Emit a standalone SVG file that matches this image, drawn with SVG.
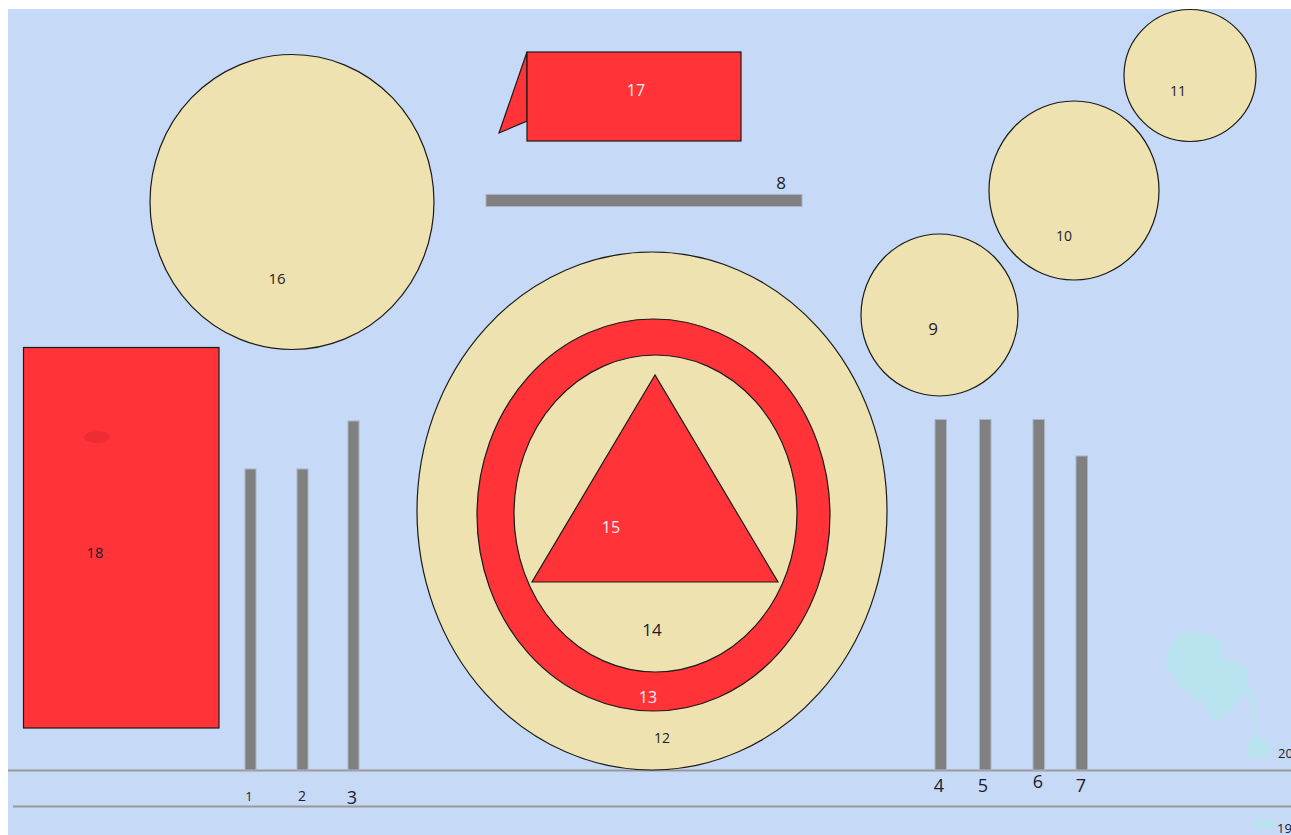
<svg xmlns="http://www.w3.org/2000/svg" width="1291" height="835" viewBox="0 0 1291 835">
<style>
.bg{fill:#C6D9F6}
.beige{fill:#EEE2B0;stroke:#1a1a1a;stroke-width:1.2}
.red{fill:#FF3338;stroke:#1a1a1a;stroke-width:1.2}
.bar{fill:#808080;stroke:#A9B3C4;stroke-width:1}
.hline{stroke:#999;stroke-width:2;fill:none}
.lbl{font-family:"Open Sans","Liberation Sans",sans-serif;fill:#1c1c2a;text-anchor:middle}
.lbl-w{font-family:"Open Sans","Liberation Sans",sans-serif;fill:#F2F0F6;text-anchor:middle}
.blob{fill:#B8E2EE}
</style>
<rect x="0" y="0" width="1291" height="835" fill="#FFFFFF"/>
<rect class="bg" x="8" y="9" width="1283" height="826"/>

<g id="connectors">
  <line class="hline" x1="8" y1="770.5" x2="1291" y2="770.5"/>
  <line class="hline" x1="13" y1="806.5" x2="1291" y2="806.5"/>
</g>

<g id="node-16">
  <ellipse class="beige" cx="292" cy="202" rx="142" ry="147.5"/>
  <text class="lbl" x="277" y="284" font-size="15">16</text>
</g>

<g id="node-17">
  <polygon class="red" points="527,52 499,133 527,121"/>
  <rect class="red" x="527" y="52" width="214" height="89"/>
  <text class="lbl-w" x="636" y="96" font-size="16">17</text>
</g>

<g id="node-8">
  <rect class="bar" x="486" y="194.5" width="316" height="12"/>
  <text class="lbl" x="781" y="189" font-size="17">8</text>
</g>

<g id="node-11">
  <circle class="beige" cx="1190" cy="75.5" r="66"/>
  <text class="lbl" x="1178" y="96" font-size="14">11</text>
</g>

<g id="node-10">
  <ellipse class="beige" cx="1074" cy="190.5" rx="85" ry="89.5"/>
  <text class="lbl" x="1064" y="241" font-size="14">10</text>
</g>

<g id="node-9">
  <ellipse class="beige" cx="939.5" cy="315" rx="78.5" ry="81"/>
  <text class="lbl" x="933" y="335" font-size="17">9</text>
</g>

<g id="node-18">
  <rect class="red" x="23.5" y="347.5" width="195.5" height="380.5"/>
  <ellipse cx="97" cy="437" rx="13" ry="6" fill="#EE2D33"/>
  <text class="lbl" x="95" y="558" font-size="15">18</text>
</g>

<g id="node-12">
  <ellipse class="beige" cx="652" cy="511" rx="235" ry="259"/>
  <text class="lbl" x="662" y="743" font-size="14">12</text>
</g>

<g id="node-13">
  <ellipse class="red" cx="653.5" cy="515" rx="176.5" ry="196"/>
  <text class="lbl-w" x="648" y="703" font-size="16">13</text>
</g>

<g id="node-14">
  <ellipse class="beige" cx="655.5" cy="513.5" rx="141.5" ry="158.5"/>
  <text class="lbl" x="652" y="636" font-size="17">14</text>
</g>

<g id="node-15">
  <polygon class="red" points="655,375 532,582 778,582"/>
  <text class="lbl-w" x="611" y="533" font-size="16">15</text>
</g>

<g id="node-1">
  <rect class="bar" x="245" y="469" width="11" height="301"/>
  <text class="lbl" x="249" y="801" font-size="13">1</text>
</g>
<g id="node-2">
  <rect class="bar" x="297" y="469" width="11" height="301"/>
  <text class="lbl" x="302" y="801" font-size="14">2</text>
</g>
<g id="node-3">
  <rect class="bar" x="348" y="421" width="11" height="349"/>
  <text class="lbl" x="352" y="804" font-size="18">3</text>
</g>
<g id="node-4">
  <rect class="bar" x="935" y="419.5" width="11.5" height="350.5"/>
  <text class="lbl" x="939" y="792" font-size="18">4</text>
</g>
<g id="node-5">
  <rect class="bar" x="979.5" y="419.5" width="11.5" height="350.5"/>
  <text class="lbl" x="983" y="792" font-size="18">5</text>
</g>
<g id="node-6">
  <rect class="bar" x="1033" y="419.5" width="11.5" height="350.5"/>
  <text class="lbl" x="1038" y="788" font-size="18">6</text>
</g>
<g id="node-7">
  <rect class="bar" x="1076" y="456" width="11.5" height="314"/>
  <text class="lbl" x="1081" y="792" font-size="18">7</text>
</g>

<g id="node-20">
  <path class="blob" d="M1165,656.7 L1173.3,640 L1183.3,633.3 L1200,631.7 L1216.7,636.7 L1223.3,643.3 L1220,656.7 L1240,661.7 L1246.7,670 L1248.3,686.7 L1255,700 L1256.7,736.7 L1266.7,740 L1271.7,746.7 L1268.3,756.7 L1255,759.3 L1246.7,753.3 L1248.3,743.3 L1253.3,736.7 L1251.7,703.3 L1243.3,693.3 L1240,698.3 L1231.7,710 L1221.7,720 L1211.7,718.3 L1206.7,710 L1203.3,700 L1193.3,700 L1188.3,691.7 L1178.3,686.7 L1173.3,676.7 L1166.7,666.7 Z"/>
  <text class="lbl" x="1278" y="758" font-size="13" style="text-anchor:start">20</text>
</g>

<g id="node-19">
  <ellipse class="blob" cx="1264" cy="824" rx="12.5" ry="5.5"/>
  <text class="lbl" x="1277" y="833" font-size="13" style="text-anchor:start">19</text>
</g>
</svg>
